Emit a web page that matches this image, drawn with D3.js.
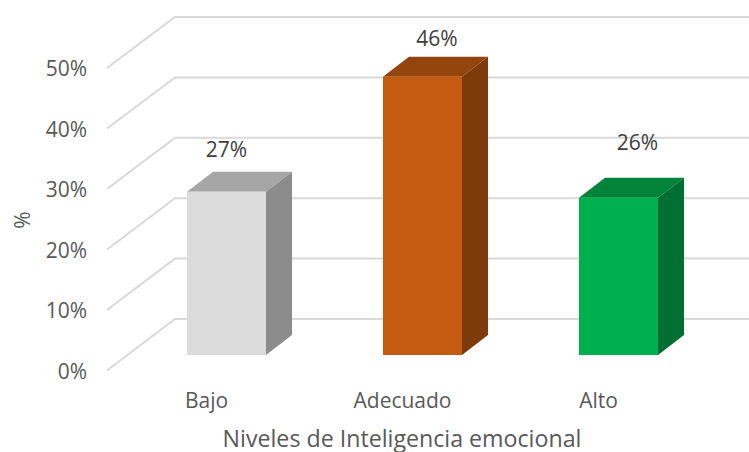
<!DOCTYPE html>
<html><head><meta charset="utf-8">
<script src="https://cdn.jsdelivr.net/npm/d3@7"></script>
<style>html,body{margin:0;background:#fff}svg{display:block}text{font-family:"Open Sans","Noto Sans",sans-serif}</style>
</head><body><div id="c"></div>
<script>
const categories = ["Bajo","Adecuado","Alto"];
const values = [27,46,26];
const yTicks = [0,10,20,30,40,50];
const frontColors = ["#dbdbdb","#c55a11","#00b050"];
const topColors = ["#a6a6a6","#94440d","#00843c"];
const sideColors = ["#8c8c8c","#7d3a0b","#006f32"];
const yTitle = "%";
const xTitle = "Niveles de Inteligencia emocional";

const W=749,H=452;
const svg=d3.select("#c").append("svg").attr("width",W).attr("height",H);
const yFront=d3.scaleLinear().domain([0,50]).range([370.5,68]);
const yBack=d3.scaleLinear().domain([0,50]).range([319,17]);
const yBar=d3.scaleLinear().domain([0,50]).range([355,52.5]);
const x=d3.scaleBand().domain(categories).range([128.5,716.5]).paddingInner(.597).paddingOuter(.2985);
const dx=26,dy=20,wallX=175,floorX=107;

const grid=svg.append("g").attr("fill","none").attr("stroke","#d9d9d9").attr("stroke-width",2);
grid.selectAll("path").data(yTicks).join("path")
  .attr("d",d=>d3.line()([[floorX,yFront(d)],[wallX,yBack(d)],[W,yBack(d)]]));

const yAxis=d3.axisLeft(yFront).tickValues(yTicks).tickFormat(d=>d+"%").tickSize(0).tickPadding(0);
const gy=svg.append("g").attr("transform","translate(87,1)").call(yAxis);
gy.select(".domain").remove();
gy.selectAll("text").attr("font-size",21).attr("fill","#595959").style("font-family",'"Open Sans"');

const bars=svg.append("g").selectAll("g").data(categories).join("g");
bars.append("path").attr("fill",(d,i)=>topColors[i])
  .attr("d",(d,i)=>{const a=x(d),b=a+x.bandwidth(),t=yBar(values[i]);return d3.line()([[a,t],[b,t],[b+dx,t-dy],[a+dx,t-dy]])+"Z";});
bars.append("path").attr("fill",(d,i)=>sideColors[i])
  .attr("d",(d,i)=>{const b=x(d)+x.bandwidth(),t=yBar(values[i]),z=yBar(0);return d3.line()([[b,t],[b+dx,t-dy],[b+dx,z-dy],[b,z]])+"Z";});
bars.append("rect").attr("fill",(d,i)=>frontColors[i])
  .attr("x",d=>x(d)).attr("width",x.bandwidth())
  .attr("y",(d,i)=>yBar(values[i])).attr("height",(d,i)=>yBar(0)-yBar(values[i]));

const labelDx=[0,14.5,19], labelDy=[35,30.5,47.5];
svg.append("g").selectAll("text").data(categories).join("text")
  .attr("text-anchor","middle").attr("font-size",21).attr("fill","#404040")
  .attr("x",(d,i)=>x(d)+x.bandwidth()/2+labelDx[i])
  .attr("y",(d,i)=>yBar(values[i])-labelDy[i])
  .text((d,i)=>values[i]+"%");

const xAxis=d3.axisBottom(x).tickSize(0).tickPadding(0);
const gx=svg.append("g").attr("transform","translate(-20,393)").call(xAxis);
gx.select(".domain").remove();
gx.selectAll("text").attr("font-size",21).attr("fill","#595959").style("font-family",'"Open Sans"');

svg.append("text").attr("transform","translate(30,220) rotate(-90)").attr("text-anchor","middle")
  .attr("font-size",21).attr("fill","#595959").text(yTitle);
svg.append("text").attr("x",402).attr("y",446.5).attr("text-anchor","middle")
  .attr("font-size",23.2).attr("fill","#595959").text(xTitle);
</script></body></html>
